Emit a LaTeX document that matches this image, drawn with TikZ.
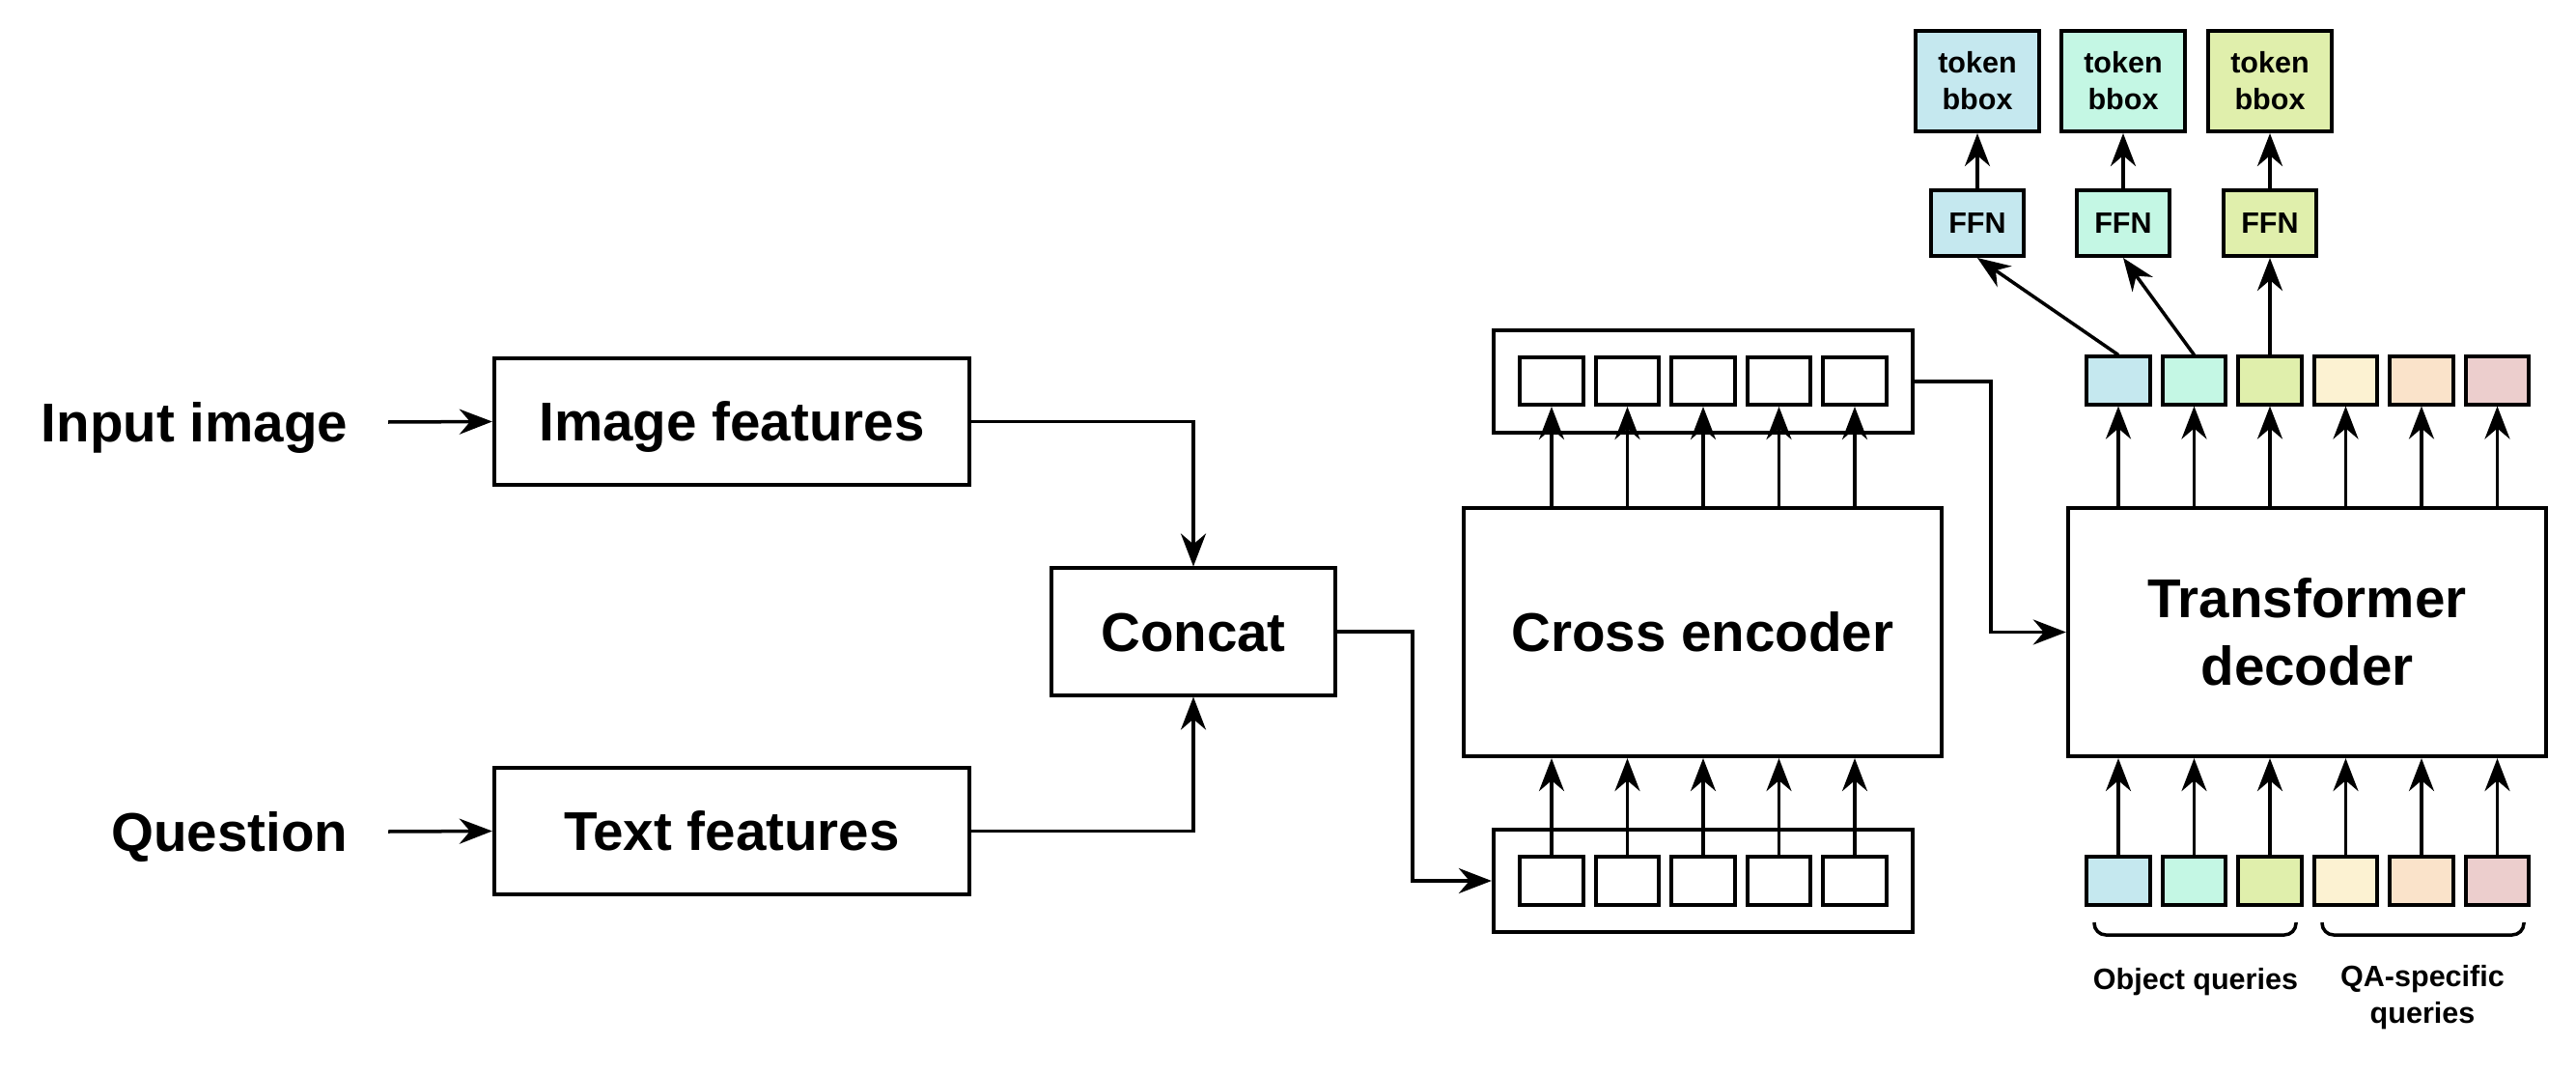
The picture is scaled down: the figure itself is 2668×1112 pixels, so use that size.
\documentclass[tikz,border=0pt]{standalone}
\usepackage{fontspec}
\setmainfont{Liberation Sans}
\usetikzlibrary{arrows.meta}
\definecolor{qblue}{RGB}{197,232,239}
\definecolor{qmint}{RGB}{196,247,228}
\definecolor{qlime}{RGB}{224,239,172}
\definecolor{qcream}{RGB}{252,242,210}
\definecolor{qpeach}{RGB}{250,227,202}
\definecolor{qpink}{RGB}{236,206,205}
\newcommand\fbig{\fontsize{16.08pt}{19.92pt}\selectfont\bfseries}
\newcommand\fsmall{\fontsize{8.68pt}{10.81pt}\selectfont\bfseries}
\begin{document}
\begin{tikzpicture}[x=0.01cm,y=-0.01cm,
  box/.style={draw, line width=0.04cm, inner sep=0, align=center, font=\fbig},
  oneline/.style={text height=0.405cm, text depth=0pt},
  cellbox/.style={draw, line width=0.04cm, inner sep=0, minimum width=0.65cm, minimum height=0.49cm},
  sbox/.style={draw, line width=0.04cm, inner sep=0, align=center, font=\fsmall},
  arr/.style={-{Stealth[length=0.34cm,width=0.26cm,inset=0.11cm]}, line width=0.035cm},
  lbl/.style={inner sep=0, font=\fbig, text height=0.405cm, text depth=0pt},
  brk/.style={line width=0.035cm, rounded corners=0.12cm},
  stxt/.style={inner sep=0, font=\fsmall, align=center}
]
\useasboundingbox (0,0) rectangle (2668,1112);

% left inputs
\node[lbl, anchor=east] (inimg) at (361,437) {Input image};
\node[lbl, anchor=east] (quest) at (361,861) {Question};
\node[box, oneline, minimum width=4.92cm, minimum height=1.31cm] (imgf) at (758,436.5) {Image features};
\node[box, oneline, minimum width=4.92cm, minimum height=1.31cm] (txtf) at (758,860.5) {Text features};
\node[box, oneline, minimum width=2.94cm, minimum height=1.31cm] (concat) at (1236,654) {Concat};

\draw[arr] ([xshift=0.41cm]inimg.east) -- (imgf.west);
\draw[arr] ([xshift=0.41cm]quest.east) -- (txtf.west);
\draw[arr] (imgf.east) -| (concat.north);
\draw[arr] (txtf.east) -| (concat.south);

% cross encoder
\node[box, oneline, minimum width=4.95cm, minimum height=2.57cm] (enc) at (1763.5,654.5) {Cross encoder};
\node[draw, line width=0.04cm, minimum width=4.34cm, minimum height=1.06cm, inner sep=0] (upc) at (1764,395) {};
\node[draw, line width=0.04cm, minimum width=4.34cm, minimum height=1.06cm, inner sep=0] (lowc) at (1764,912) {};
\foreach \i in {1,...,5}{
  \pgfmathsetmacro\xx{1607+78.5*(\i-1)}
  \node[cellbox] (uc\i) at (\xx,394.5) {};
  \node[cellbox] (lc\i) at (\xx,912) {};
  \draw[arr] (enc.north -| uc\i) -- (uc\i.south);
  \draw[arr] (lc\i.north) -- (lc\i.north |- enc.south);
}
\coordinate (k1) at (1463,0);
\draw[arr] (concat.east) -- (concat.east -| k1) -- (k1 |- lowc.west) -- (lowc.west);

% transformer decoder
\node[box, minimum width=4.95cm, minimum height=2.57cm] (dec) at (2389.5,654.5) {Transformer\\decoder};
\coordinate (k2) at (2062,0);
\draw[arr] (upc.east) -- (upc.east -| k2) -- (k2 |- dec.west) -- (dec.west);

\foreach \i/\c in {1/qblue,2/qmint,3/qlime,4/qcream,5/qpeach,6/qpink}{
  \pgfmathsetmacro\xx{2194+78.5*(\i-1)}
  \node[cellbox, fill=\c] (tq\i) at (\xx,394) {};
  \node[cellbox, fill=\c] (bq\i) at (\xx,912) {};
  \draw[arr] (dec.north -| tq\i) -- (tq\i.south);
  \draw[arr] (bq\i.north) -- (bq\i.north |- dec.south);
}

% FFN heads
\foreach \i/\x/\c in {1/2048/qblue,2/2199/qmint,3/2351/qlime}{
  \node[sbox, fill=\c, minimum width=0.96cm, minimum height=0.68cm] (ffn\i) at (\x,231) {FFN};
  \node[sbox, fill=\c, minimum width=1.27cm, minimum height=1.04cm] (tok\i) at (\x,84) {token\\bbox};
  \draw[arr] (ffn\i.north) -- (tok\i.south);
  \draw[arr] (tq\i.north) -- (ffn\i.south);
}

% brackets and labels
\draw[brk] (2169,955) -- (2169,968) -- (2378,968) -- (2378,955);
\draw[brk] (2405,955) -- (2405,968) -- (2614,968) -- (2614,955);
\node[stxt, anchor=north] (objq) at (2274,1002) {Object queries};
\node[stxt, anchor=north] (qaq) at (2509,999) {QA-specific\\queries};
\end{tikzpicture}
\end{document}
